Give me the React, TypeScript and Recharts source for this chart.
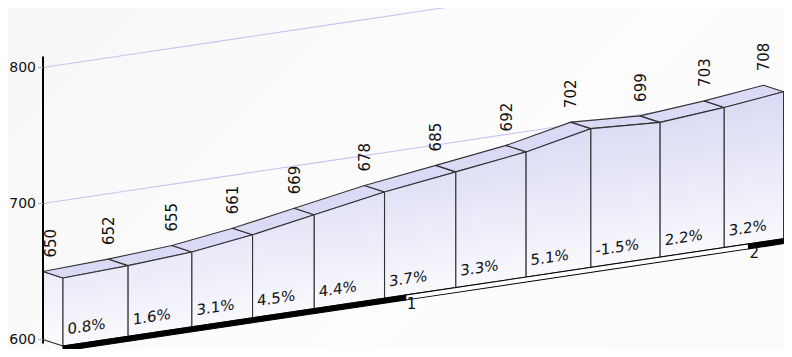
import { ComposedChart, XAxis, YAxis, Scatter, ReferenceArea } from "recharts";

// points along the horizontal axis and their values
const xs = [0, 0.19, 0.376, 0.553, 0.733, 0.938, 1.146, 1.351, 1.54, 1.742, 1.929, 2.102];
const values = [650, 652, 655, 661, 669, 678, 685, 692, 702, 699, 703, 708];
const changes = ["0.8%", "1.6%", "3.1%", "4.5%", "4.4%", "3.7%", "3.3%", "5.1%", "-1.5%", "2.2%", "3.2%"];
const yTicks = [600, 700, 800];
const gridValues = [700, 800];
const bandStarts = [0, 1, 2];
const bandLabels = ["0", "1", "2"];

const BASE = 600;
const Y_MIN = 597;
const Y_MAX = 808;
const X_MAX = 2.185;

// pseudo-3d: shear of the floor and depth of the extrusion
const K = 0.149;
const X0 = 43;
const DX = 20;
const DY = 9.5;
const SHEAR = `matrix(1 ${-K} 0 1 0 ${K * X0})`;
const sy = (x: number, y: number) => y - K * (x - X0);

const FONT = "DejaVu Sans, Verdana, sans-serif";
const EDGE = "#333";

const rows = xs.map((x, i) => ({ x, y: values[i], value: values[i] }));

// back-wall grid, cut into short pieces along the sheared wall
function gridShape(p: any) {
  const { x, y, width } = p;
  const steps = 8;
  const pieces = [];
  for (let s = 0; s < steps; s++) {
    const a = x + (width * s) / steps;
    const b = x + (width * (s + 1)) / steps;
    pieces.push(
      <line
        key={s}
        x1={a}
        y1={sy(a, y)}
        x2={b}
        y2={sy(b, y)}
        stroke="#c4c4f2"
        strokeWidth={1.1}
      />
    );
  }
  return <g>{pieces}</g>;
}

function segmentShape(i: number) {
  return (p: any) => {
    const { x, y, width, height } = p;
    const ppu = height / (values[i] - BASE);
    const base = y + height;
    const x1 = x;
    const x2 = x + width;
    const y1 = y;
    const y2 = base - (values[i + 1] - BASE) * ppu;
    const f = (px: number, py: number) => `${px + DX},${py + DY}`;
    const top = [`${x1},${y1}`, `${x2},${y2}`, f(x2, y2), f(x1, y1)].join(" ");
    const front = [f(x1, y1), f(x2, y2), f(x2, base), f(x1, base)].join(" ");
    const cap = [`${x1},${y1}`, f(x1, y1), f(x1, base), `${x1},${base}`].join(" ");
    return (
      <g transform={SHEAR}>
        {i === 0 && (
          <polygon points={cap} fill="url(#capFill)" stroke={EDGE} strokeWidth={1} />
        )}
        <polygon points={top} fill="#dadaf6" stroke={EDGE} strokeWidth={1.1} strokeLinejoin="round" />
        <polygon points={front} fill="url(#frontFill)" stroke={EDGE} strokeWidth={1.1} />
        <text
          x={x1 + DX + 4.5}
          y={base + DY - 11}
          fontSize={15}
          fontFamily={FONT}
          fill="#111"
        >
          {changes[i]}
        </text>
      </g>
    );
  };
}

function bandShape(j: number) {
  return (p: any) => {
    const { x, y, width } = p;
    const bx = x + DX;
    const by = y + DY;
    return (
      <g>
        <g transform={SHEAR}>
          <rect
            x={bx}
            y={by}
            width={width}
            height={5}
            fill={j % 2 === 0 ? "#000" : "#fff"}
            stroke="#000"
            strokeWidth={1}
          />
        </g>
        <text x={bx + 1} y={sy(bx, by) + 14} fontSize={15} fontFamily={FONT} fill="#111">
          {bandLabels[j]}
        </text>
      </g>
    );
  };
}

function ValueLabel(p: any) {
  const { cx, cy, payload } = p;
  const xc = Math.max(cx, X0 + 8) + 5.5;
  const yb = sy(cx, cy) - 14;
  return (
    <text
      x={xc}
      y={yb}
      transform={`rotate(-90 ${xc} ${yb})`}
      fontSize={15}
      fontFamily={FONT}
      fill="#111"
    >
      {payload.value}
    </text>
  );
}

export default function App() {
  return (
    <div
      style={{
        margin: -8,
        width: 792,
        height: 357,
        overflow: "hidden",
        background: "linear-gradient(135deg, #f7f7f7 0%, #fdfdfd 60%, #fafafa 100%)",
      }}
    >
      <ComposedChart
        width={792}
        height={357}
        data={rows}
        margin={{ top: 56.6, right: 0, bottom: 13.4, left: 0 }}
      >
        <defs>
          <linearGradient id="frontFill" gradientUnits="userSpaceOnUse" x1="0" y1="195" x2="0" y2="350">
            <stop offset="0%" stopColor="#d8d8f4" />
            <stop offset="100%" stopColor="#f9f9fd" />
          </linearGradient>
          <linearGradient id="capFill" gradientUnits="userSpaceOnUse" x1="0" y1="270" x2="0" y2="345">
            <stop offset="0%" stopColor="#ececf9" />
            <stop offset="100%" stopColor="#fbfbfe" />
          </linearGradient>
        </defs>
        <XAxis type="number" dataKey="x" domain={[0, X_MAX]} hide />
        <YAxis
          type="number"
          dataKey="y"
          domain={[Y_MIN, Y_MAX]}
          ticks={yTicks}
          width={43}
          axisLine={{ stroke: "#000", strokeWidth: 2 }}
          tickLine={{ stroke: "#aaa" }}
          tickSize={5}
          tickMargin={2}
          tick={{ fontSize: 14, fontFamily: FONT, fill: "#111" }}
        />
        {gridValues.map((g) => (
          <ReferenceArea
            key={`g${g}`}
            x1={0}
            x2={X_MAX}
            y1={BASE}
            y2={g}
            shape={gridShape}
          />
        ))}
        {changes.map((_, i) => (
          <ReferenceArea
            key={`s${i}`}
            x1={xs[i]}
            x2={xs[i + 1]}
            y1={BASE}
            y2={values[i]}
            shape={segmentShape(i)}
          />
        ))}
        {bandStarts.map((b, j) => (
          <ReferenceArea
            key={`b${j}`}
            x1={b}
            x2={j + 1 < bandStarts.length ? bandStarts[j + 1] : X_MAX}
            y1={Y_MIN}
            y2={BASE}
            shape={bandShape(j)}
          />
        ))}
        <Scatter dataKey="y" shape={ValueLabel} isAnimationActive={false} />
      </ComposedChart>
    </div>
  );
}
